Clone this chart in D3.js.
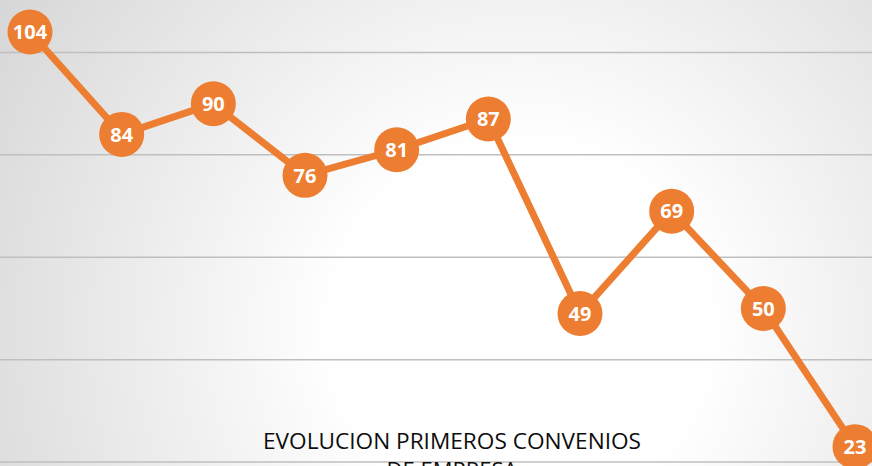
<!DOCTYPE html>
<html>
<head>
<meta charset="utf-8">
<script src="https://cdn.jsdelivr.net/npm/d3@7"></script>
<style>
  html, body { margin: 0; padding: 0; background: #fff; }
  svg { display: block; }
</style>
</head>
<body>
<svg id="chart" width="872" height="466"></svg>
<script>
// ---- data ----
const categories = ["1", "2", "3", "4", "5", "6", "7", "8", "9", "10"];
const values = [104, 84, 90, 76, 81, 87, 49, 69, 50, 23];
const gridTicks = [0, 20, 40, 60, 80, 100, 120];
const titleLines = ["EVOLUCION PRIMEROS CONVENIOS", "DE EMPRESA"];

const W = 872, H = 466;
const svg = d3.select("#chart");

// background radial gradient
const defs = svg.append("defs");
const grad = defs.append("radialGradient")
  .attr("id", "bg").attr("gradientUnits", "userSpaceOnUse")
  .attr("cx", 520).attr("cy", 330).attr("r", 620);
grad.append("stop").attr("offset", "0").attr("stop-color", "#ffffff");
grad.append("stop").attr("offset", "0.3").attr("stop-color", "#ffffff");
grad.append("stop").attr("offset", "1").attr("stop-color", "#d6d6d6");
svg.append("rect").attr("width", W).attr("height", H).attr("fill", "url(#bg)");

// scales
const x = d3.scalePoint().domain(categories).range([30, 855]);
const y = d3.scaleLinear().domain([0, 120]).range([564.4, -49.9]);

// gridlines
svg.append("g").selectAll("line").data(gridTicks).join("line")
  .attr("x1", 0).attr("x2", W)
  .attr("y1", d => y(d)).attr("y2", d => y(d))
  .attr("stroke", "#bfbfbf").attr("stroke-width", 1.5);

// title
const title = svg.append("g");
titleLines.forEach((t, i) => {
  title.append("text")
    .attr("x", 452).attr("y", 449 + i * 29)
    .attr("text-anchor", "middle")
    .attr("font-family", "'Open Sans', sans-serif")
    .attr("font-size", 22)
    .attr("fill", "#0d0d0d")
    .attr("textLength", i === 0 ? 378 : null)
    .attr("lengthAdjust", "spacingAndGlyphs")
    .text(t);
});

// line
const data = categories.map((c, i) => ({ c, v: values[i] }));
svg.append("path").datum(data)
  .attr("fill", "none").attr("stroke", "#ED7D31").attr("stroke-width", 7)
  .attr("stroke-linejoin", "round")
  .attr("d", d3.line().x(d => x(d.c)).y(d => y(d.v)));

// markers with labels
const pts = svg.append("g").selectAll("g").data(data).join("g")
  .attr("transform", d => `translate(${x(d.c)},${y(d.v)})`);
pts.append("circle").attr("r", 22.5).attr("fill", "#ED7D31");
pts.append("text")
  .attr("text-anchor", "middle").attr("dy", "0.36em")
  .attr("font-family", "'Open Sans', sans-serif")
  .attr("font-weight", 700).attr("font-size", 20)
  .attr("fill", "#ffffff")
  .text(d => d.v);
</script>
</body>
</html>
